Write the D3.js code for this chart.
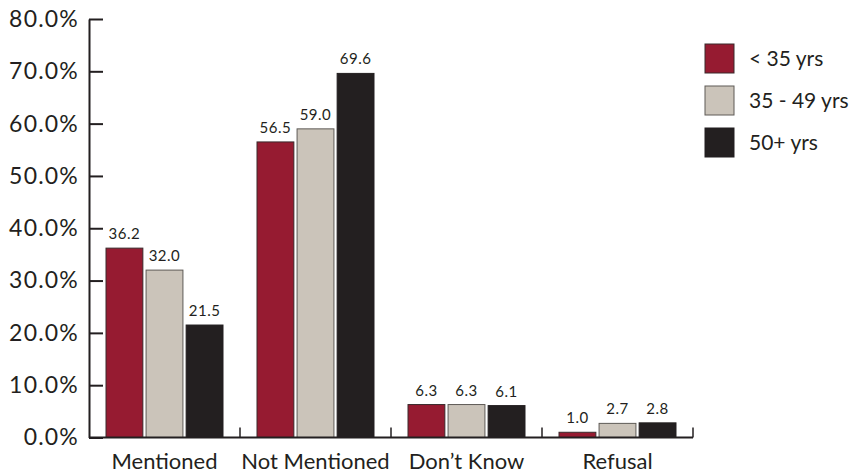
<!DOCTYPE html>
<html>
<head>
<meta charset="utf-8">
<script src="https://cdn.jsdelivr.net/npm/d3@7"></script>
<style>
  html, body { margin: 0; padding: 0; background: #fff; }
  svg { display: block; font-family: "Lato", "Open Sans", sans-serif; }
</style>
</head>
<body>
<svg id="chart" width="849" height="474"></svg>
<script>
// Responses by age group (percent)
const categories = ["Mentioned", "Not Mentioned", "Don\u2019t Know", "Refusal"];
const seriesNames = ["< 35 yrs", "35 - 49 yrs", "50+ yrs"];
const under35 = [36.2, 56.5, 6.3, 1.0];
const age35to49 = [32.0, 59.0, 6.3, 2.7];
const over50 = [21.5, 69.6, 6.1, 2.8];
const yTicks = [0, 10, 20, 30, 40, 50, 60, 70, 80];

const seriesValues = [under35, age35to49, over50];
const colors = ["#961b31", "#cbc4ba", "#231f20"];
const strokes = ["#3a2a2c", "#5e5a56", "#231f20"];
const ink = "#231f20";

const svg = d3.select("#chart");

const y = d3.scaleLinear().domain([0, 80]).range([437.5, 19]);
const x0 = d3.scaleBand().domain(categories).range([89, 693]).paddingInner(0).paddingOuter(0);
const x1 = d3.scaleBand().domain(seriesNames)
  .range([17, x0.bandwidth() - 17]).paddingInner(0.08);

// Y axis: ticks pointing into the plot
const yAxis = d3.axisLeft(y)
  .tickValues(yTicks)
  .tickFormat(d => d3.format(".1f")(d) + "%")
  .tickSize(-14)
  .tickSizeOuter(0)
  .tickPadding(10);

const gy = svg.append("g").attr("transform", "translate(89,0)").call(yAxis);
gy.select(".domain").attr("stroke", ink).attr("stroke-width", 2);
gy.selectAll(".tick line").attr("stroke", ink).attr("stroke-width", 2);
gy.selectAll(".tick text")
  .attr("fill", ink)
  .style("font-size", "23px")
  .style("letter-spacing", "1.2px")
  .style("font-family", "Lato, 'Open Sans', sans-serif");

// Bars
const groups = svg.append("g").selectAll("g")
  .data(categories)
  .join("g")
  .attr("transform", d => `translate(${x0(d)},0)`);

groups.selectAll("rect")
  .data((c, i) => seriesNames.map((s, j) => ({ s, j, v: seriesValues[j][i] })))
  .join("rect")
  .attr("x", d => x1(d.s))
  .attr("y", d => y(d.v))
  .attr("width", x1.bandwidth())
  .attr("height", d => y(0) - y(d.v))
  .attr("fill", d => colors[d.j])
  .attr("stroke", d => strokes[d.j])
  .attr("stroke-width", 1);

// Value labels above bars
groups.selectAll("text.val")
  .data((c, i) => seriesNames.map((s, j) => ({ s, j, v: seriesValues[j][i] })))
  .join("text")
  .attr("class", "val")
  .attr("x", d => x1(d.s) + x1.bandwidth() / 2)
  .attr("y", d => y(d.v) - 9)
  .attr("text-anchor", "middle")
  .attr("fill", ink)
  .style("font-size", "15px")
  .style("letter-spacing", "0.5px")
  .text(d => d3.format(".1f")(d.v));

// X axis baseline with category divider ticks pointing up
const xLine = svg.append("g");
xLine.append("line")
  .attr("x1", 89).attr("x2", x0.range()[1])
  .attr("y1", y(0)).attr("y2", y(0))
  .attr("stroke", ink).attr("stroke-width", 2);
const dividers = categories.map(c => x0(c) + x0.bandwidth());
xLine.selectAll("line.div")
  .data(dividers)
  .join("line")
  .attr("class", "div")
  .attr("x1", d => d).attr("x2", d => d)
  .attr("y1", y(0)).attr("y2", y(0) - 10)
  .attr("stroke", ink).attr("stroke-width", 1.5);

// Category labels
svg.append("g").selectAll("text")
  .data(categories)
  .join("text")
  .attr("x", d => x0(d) + x0.bandwidth() / 2)
  .attr("y", 469)
  .attr("text-anchor", "middle")
  .attr("fill", ink)
  .style("font-size", "22px")
  .text(d => d);

// Legend
const legend = svg.append("g").attr("transform", "translate(705,44)");
const items = legend.selectAll("g")
  .data(seriesNames)
  .join("g")
  .attr("transform", (d, i) => `translate(0,${i * 42})`);
items.append("rect")
  .attr("width", 29).attr("height", 29)
  .attr("fill", (d, i) => colors[i])
  .attr("stroke", (d, i) => strokes[i])
  .attr("stroke-width", 1);
items.append("text")
  .attr("x", 44).attr("y", 15)
  .attr("dy", "0.35em")
  .attr("fill", ink)
  .style("font-size", "21px")
  .text(d => d);
</script>
</body>
</html>
